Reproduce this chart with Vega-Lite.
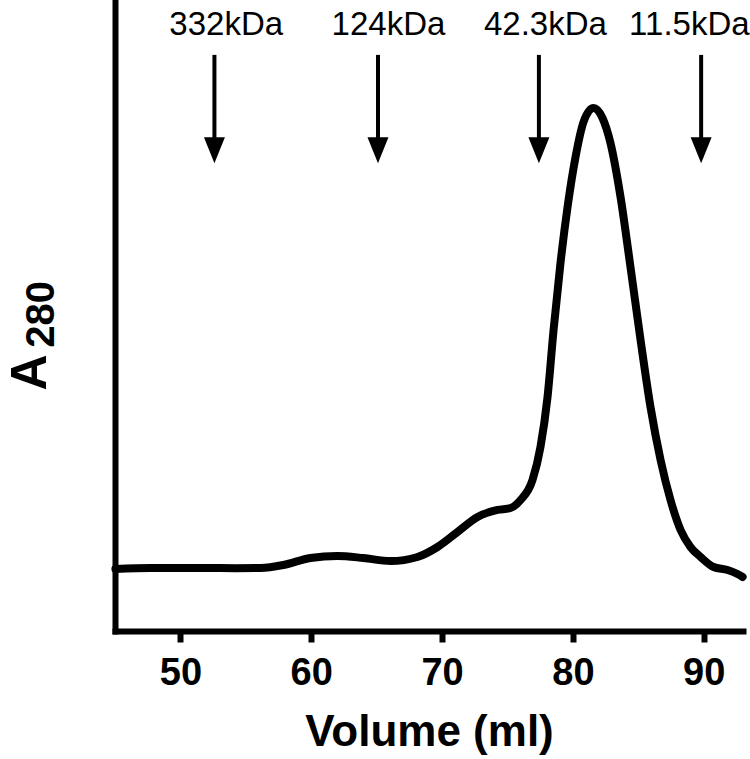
{
  "$schema": "https://vega.github.io/schema/vega-lite/v6.json",
  "width": 628,
  "height": 631,
  "autosize": {"type": "none"},
  "padding": {"left": 115, "top": 0, "right": 7, "bottom": 128},
  "background": "white",
  "config": {"view": {"stroke": null}, "font": "Liberation Sans"},
  "datasets": {
    "trace": [
      {"vol": 45.03, "a": 9.83}, {"vol": 47.71, "a": 9.98}, {"vol": 50.0, "a": 10.0}, {"vol": 52.29, "a": 9.98},
      {"vol": 54.2, "a": 9.95}, {"vol": 56.12, "a": 9.98}, {"vol": 57.87, "a": 10.46}, {"vol": 59.94, "a": 11.57},
      {"vol": 62.0, "a": 11.89}, {"vol": 63.99, "a": 11.57}, {"vol": 66.06, "a": 11.09}, {"vol": 68.12, "a": 11.73},
      {"vol": 69.65, "a": 13.31}, {"vol": 71.18, "a": 15.69}, {"vol": 72.71, "a": 18.07}, {"vol": 74.24, "a": 19.18},
      {"vol": 75.23, "a": 19.49}, {"vol": 76.0, "a": 20.76}, {"vol": 76.91, "a": 23.93}, {"vol": 77.52, "a": 29.16},
      {"vol": 78.06, "a": 37.08}, {"vol": 78.52, "a": 47.7}, {"vol": 79.05, "a": 58.32}, {"vol": 79.59, "a": 67.19},
      {"vol": 80.2, "a": 75.12}, {"vol": 80.81, "a": 80.67}, {"vol": 81.57, "a": 82.88}, {"vol": 82.26, "a": 81.3},
      {"vol": 82.87, "a": 77.34}, {"vol": 83.64, "a": 68.78}, {"vol": 84.4, "a": 57.69}, {"vol": 85.17, "a": 46.12},
      {"vol": 85.93, "a": 35.5}, {"vol": 86.7, "a": 27.1}, {"vol": 87.46, "a": 20.76}, {"vol": 88.23, "a": 16.01},
      {"vol": 88.99, "a": 13.31}, {"vol": 89.76, "a": 11.73}, {"vol": 90.75, "a": 10.14}, {"vol": 91.82, "a": 9.67},
      {"vol": 92.58, "a": 9.03}, {"vol": 92.97, "a": 8.56}
    ],
    "markers": [
      {"label": "332kDa", "label_x": 53.5, "arrow_x": 52.6},
      {"label": "124kDa", "label_x": 65.9, "arrow_x": 65.1},
      {"label": "42.3kDa", "label_x": 77.9, "arrow_x": 77.4},
      {"label": "11.5kDa", "label_x": 88.9, "arrow_x": 89.8}
    ]
  },
  "layer": [
    {
      "data": {"name": "trace"},
      "mark": {"type": "line", "color": "black", "strokeWidth": 8, "interpolate": "monotone", "strokeCap": "round", "strokeJoin": "round"},
      "encoding": {
        "x": {
          "field": "vol", "type": "quantitative",
          "scale": {"domain": [45, 93], "nice": false, "zero": false},
          "axis": {
            "values": [50, 60, 70, 80, 90], "format": "d", "grid": false,
            "domainColor": "black", "domainWidth": 6, "domainCap": "square",
            "tickColor": "black", "tickWidth": 6, "tickSize": 11,
            "labelFont": "Liberation Sans", "labelFontWeight": "bold", "labelFontSize": 38, "labelColor": "black",
            "labelPadding": 12, "labelFlush": false, "labelOverlap": false,
            "title": "Volume (ml)", "titleFont": "Liberation Sans", "titleFontSize": 44, "titleFontWeight": "bold",
            "titleColor": "black", "titlePadding": 18
          }
        },
        "y": {
          "field": "a", "type": "quantitative",
          "scale": {"domain": [0, 100], "nice": false, "zero": false},
          "axis": {
            "ticks": false, "tickSize": 0, "grid": false,
            "values": [50.24], "labelExpr": "'280'",
            "labelAngle": -90, "labelAlign": "center", "labelBaseline": "alphabetic", "labelPadding": 62,
            "labelFont": "Liberation Sans", "labelFontWeight": "bold", "labelFontSize": 40, "labelColor": "black",
            "labelFlush": false, "labelOverlap": false,
            "domainColor": "black", "domainWidth": 6, "domainCap": "square",
            "title": "A", "titleFont": "Liberation Sans", "titleFontSize": 50, "titleFontWeight": "bold",
            "titleColor": "black", "titleX": -70, "titleY": 372, "titleBaseline": "alphabetic", "titleAngle": -90, "titleAlign": "center"
          }
        }
      }
    },
    {
      "data": {"name": "markers"},
      "mark": {"type": "rule", "color": "black", "strokeWidth": 4},
      "encoding": {
        "x": {"field": "arrow_x", "type": "quantitative"},
        "y": {"datum": 91.3},
        "y2": {"datum": 78}
      }
    },
    {
      "data": {"name": "markers"},
      "mark": {"type": "point", "shape": "M-1,-1.24L1,-1.24L0,1.24Z", "size": 441, "filled": true, "color": "black", "opacity": 1, "strokeWidth": 0},
      "encoding": {
        "x": {"field": "arrow_x", "type": "quantitative"},
        "y": {"datum": 76.2}
      }
    },
    {
      "data": {"name": "markers"},
      "mark": {"type": "text", "font": "Liberation Sans", "fontSize": 33, "color": "black", "align": "center", "baseline": "alphabetic"},
      "encoding": {
        "x": {"field": "label_x", "type": "quantitative"},
        "y": {"datum": 94.45},
        "text": {"field": "label"}
      }
    }
  ]
}
